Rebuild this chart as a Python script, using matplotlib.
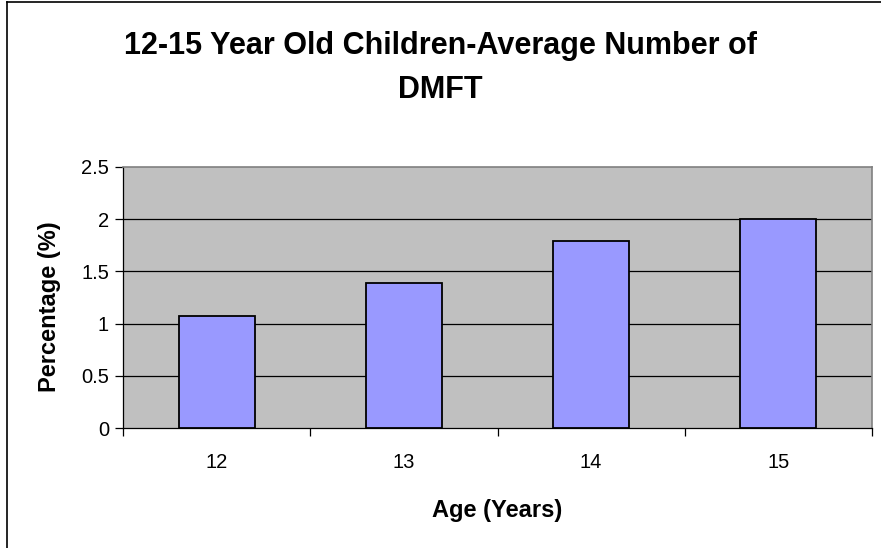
import matplotlib
matplotlib.use("Agg")
import matplotlib.pyplot as plt
from matplotlib.lines import Line2D

# Datos del grafico
edades = ["12", "13", "14", "15"]
valores = [1.07, 1.39, 1.79, 2.0]
ticks_y = [0, 0.5, 1, 1.5, 2, 2.5]
etiquetas_y = ["0", "0.5", "1", "1.5", "2", "2.5"]

plt.rcParams["font.family"] = ["Liberation Sans", "DejaVu Sans"]

W, H = 881, 548
fig = plt.figure(figsize=(W / 100, H / 100), dpi=100)
fig.patch.set_facecolor("white")

# Area de trazado (en pixeles del original)
x0, x1, y0, y1 = 123, 872, 167, 428
ax = fig.add_axes([x0 / W, 1 - y1 / H, (x1 - x0) / W, (y1 - y0) / H])
ax.set_facecolor("#C0C0C0")

pos = list(range(len(edades)))
ax.bar(pos, valores, width=0.405, color="#9999FF", edgecolor="black",
       linewidth=1.3, zorder=3)

ax.set_xlim(-0.5, len(edades) - 0.5)
ax.set_ylim(0, 2.5)

# Cuadricula horizontal
for v in ticks_y[1:-1]:
    ax.axhline(v, color="black", linewidth=0.9, zorder=1)

ax.set_yticks(ticks_y)
ax.set_yticklabels(etiquetas_y, fontsize=14.5)
ax.tick_params(axis="y", direction="out", length=6, width=0.9, pad=4)

# Marcas entre categorias, etiquetas en el centro
ax.set_xticks([p - 0.5 for p in pos] + [len(edades) - 0.5])
ax.set_xticklabels([])
ax.set_xticks(pos, minor=True)
ax.set_xticklabels(edades, minor=True, fontsize=14.5)
ax.tick_params(axis="x", which="major", direction="out", length=6, width=0.9)
ax.tick_params(axis="x", which="minor", length=0, pad=18)

for lado in ["top", "right"]:
    ax.spines[lado].set_color("#808080")
    ax.spines[lado].set_linewidth(1.2)
for lado in ["left", "bottom"]:
    ax.spines[lado].set_color("black")
    ax.spines[lado].set_linewidth(0.9)

ax.set_xlabel("Age (Years)", fontsize=17, fontweight="bold")
ax.xaxis.set_label_coords(0.5, -(510 - y1) / (y1 - y0))
ax.set_ylabel("Percentage (%)", fontsize=17, fontweight="bold")
ax.yaxis.set_label_coords(-(x0 - 50) / (x1 - x0), (y1 - 307) / (y1 - y0))
ax.xaxis.label.set_va("center")
ax.yaxis.label.set_va("center")

fig.text(0.5, 1 - 46 / H, "12-15 Year Old Children-Average Number of",
         ha="center", va="center", fontsize=22, fontweight="bold")
fig.text(0.5, 1 - 90 / H, "DMFT",
         ha="center", va="center", fontsize=22, fontweight="bold")

# Borde exterior (solo arriba e izquierda visibles)
fig.add_artist(Line2D([7 / W, 7 / W], [0, 1 - 2 / H], color="black",
                      linewidth=1.2, transform=fig.transFigure))
fig.add_artist(Line2D([7 / W, 1], [1 - 2 / H, 1 - 2 / H], color="black",
                      linewidth=1.2, transform=fig.transFigure))

fig.savefig("out.png", dpi=100)
